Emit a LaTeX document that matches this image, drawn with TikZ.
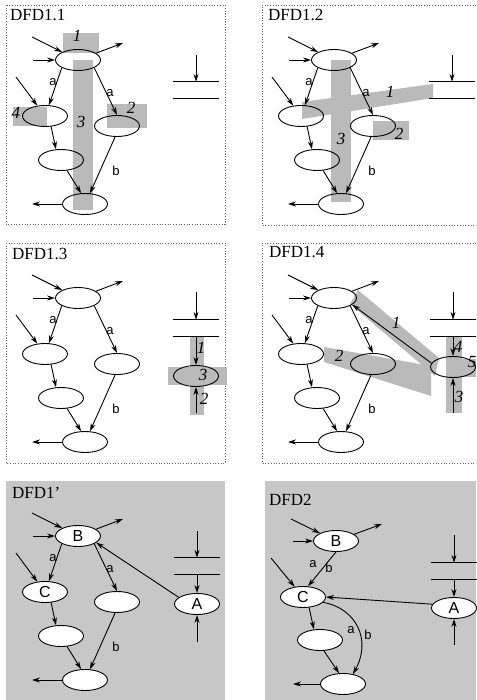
\documentclass[tikz,border=0pt]{standalone}
\usepackage{fontspec}
\setmainfont{Liberation Serif}
\setsansfont{Liberation Sans}
\usetikzlibrary{arrows.meta,shapes.geometric}

\tikzset{
  proc/.style={ellipse, draw, line width=0.9pt, minimum width=45pt, minimum height=21pt,
    inner sep=0pt, font=\sffamily\fontsize{16}{16}\selectfont},
  wproc/.style={proc, fill=white},
  flow/.style={-{Stealth[length=8pt,width=5pt]}, line width=0.9pt},
  store/.style={rectangle, minimum width=46pt, minimum height=16pt, inner sep=0pt},
  storeline/.style={line width=1pt},
  lbl/.style={font=\sffamily\fontsize{13}{13}\selectfont, inner sep=0pt},
  numlbl/.style={font=\itshape\fontsize{17}{17}\selectfont, inner sep=0pt},
  ttl/.style={font=\fontsize{17}{17}\selectfont, anchor=base west, inner sep=0pt},
  band/.style={fill=black!27},
  panelbg/.style={fill=black!22},
  panelframe/.style={draw=black!60, dotted, line width=0.7pt},
}

% common data-flow graph: #1 prefix, #2/#3 shift, #4/#5 texts of the two upper processes, #6 process style
\newcommand\dfdbase[6]{%
  \begin{scope}[shift={(#2,#3)}]
    \node[#6] (#1T) at (78,60) {#4};
    \node[#6] (#1L) at (45,116) {#5};
    \node[#6] (#1R) at (117,126) {};
    \node[#6] (#1M) at (61,160) {};
    \node[#6] (#1Bo) at (85,204) {};
    \coordinate (#1i1) at (32,37);
    \coordinate (#1i2) at (33,60);
    \coordinate (#1o1) at (123,43);
    \coordinate (#1i3) at (16,77);
    \coordinate (#1o2) at (32,204);
    \draw[flow] (#1i1) -- (#1T);
    \draw[flow] (#1i2) -- (#1T);
    \draw[flow] (#1T) -- (#1o1);
    \draw[flow] (#1i3) -- (#1L);
    \draw[flow] (#1T.south west) -- (#1L.70);
    \draw[flow] (#1T.south east) -- (#1R.north);
    \draw[flow] (#1L.-60) -- (#1M.115);
    \draw[flow] (#1M.-60) -- (#1Bo.110);
    \draw[flow] (#1R.-100) -- (#1Bo.65);
    \draw[flow] (#1Bo.west) -- (#1o2);
    \node[lbl] (#1la) at (53,82) {a};
    \node[lbl] (#1lb) at (110,93) {a};
    \node[lbl] (#1lc) at (116,171) {b};
  \end{scope}}

% data store drawn as two horizontal lines of a named box
\newcommand\dstore[1]{%
  \draw[storeline] (#1.north west) -- (#1.north east);
  \draw[storeline] (#1.south west) -- (#1.south east);}

\begin{document}
\begin{tikzpicture}[x=1pt,y=-1pt]
\useasboundingbox (0,0) rectangle (476,700);

% ---------------- DFD1.1 ----------------
\draw[panelframe] (6,5) rectangle (225,224);
\fill[band] (63,33) rectangle (99,53);
\fill[band] (73,60) rectangle (93,210);
\fill[band] (107,104) rectangle (147,128);
\fill[band] (13,107) rectangle (47,126);
\node[ttl] (t1) at (10,21) {DFD1.1};
\dfdbase{a}{0}{0}{}{}{proc}
\node[store] (as) at (196,90) {};
\dstore{as}
\coordinate (asi) at (196,55);
\draw[flow] (asi) -- (as.north);
\node[numlbl] (an1) at (77,36) {1};
\node[numlbl] (an3) at (81,122) {3};
\node[numlbl] (an2) at (131,108) {2};
\node[numlbl] (an4) at (16,113) {4};

% ---------------- DFD1.2 ----------------
\draw[panelframe] (476,5) -- (262,5) -- (262,225) -- (476,225);
\fill[band] (302,102) -- (433,84) -- (433,98) -- (302,119) -- cycle;
\fill[band] (331,60) rectangle (351,202);
\fill[band] (373,121) rectangle (409,140);
\node[ttl] (t2) at (268,21) {DFD1.2};
\dfdbase{b}{256}{0}{}{}{proc}
\node[store] (bs) at (452,90) {};
\dstore{bs}
\coordinate (bsi) at (452,55);
\draw[flow] (bsi) -- (bs.north);
\node[numlbl] (bn1) at (390,92) {1};
\node[numlbl] (bn3) at (341,139) {3};
\node[numlbl] (bn2) at (399,134) {2};

% ---------------- DFD1.3 ----------------
\draw[panelframe] (6,243) rectangle (225,463);
\fill[band] (190,337) rectangle (204,415);
\fill[band] (168,367) rectangle (227,385);
\node[ttl] (t3) at (12,259) {DFD1.3};
\dfdbase{c}{0}{238}{}{}{proc}
\node[store] (cs) at (196,328) {};
\dstore{cs}
\node[proc] (cP) at (196,376) {};
\coordinate (csi) at (196,292);
\coordinate (cpi) at (196,413);
\draw[flow] (csi) -- (cs.north);
\draw[flow] (cs.south) -- (cP.north);
\draw[flow] (cpi) -- (cP.south);
\node[numlbl] (cn1) at (201,348) {1};
\node[numlbl] (cn3) at (203,375) {3};
\node[numlbl] (cn2) at (204,399) {2};

% ---------------- DFD1.4 ----------------
\draw[panelframe] (476,243) -- (262,243) -- (262,463) -- (476,463);
\fill[band] (358,290) -- (439,358) -- (435,376) -- (350,304) -- cycle;
\fill[band] (324,347) -- (431,366) -- (431,396) -- (324,362) -- cycle;
\fill[band] (446,337) rectangle (462,413);
\fill[band] (453,359) rectangle (476,377);
\node[ttl] (t4) at (269,258) {DFD1.4};
\dfdbase{d}{256}{238}{}{}{proc}
\node[store] (ds) at (453,328) {};
\dstore{ds}
\node[proc] (dP) at (453,367) {};
\coordinate (dsi) at (453,292);
\coordinate (dpi) at (453,413);
\draw[flow] (dsi) -- (ds.north);
\draw[flow] (ds.south) -- (dP.north);
\draw[flow] (dpi) -- (dP.south);
\draw[flow] (dP.170) -- (dT.-20);
\node[numlbl] (dn1) at (396,323) {1};
\node[numlbl] (dn2) at (339,356) {2};
\node[numlbl] (dn4) at (458,347) {4};
\node[numlbl] (dn5) at (472,362) {5};
\node[numlbl] (dn3) at (459,397) {3};

% ---------------- DFD1' ----------------
\fill[panelbg] (6,481) rectangle (225,700);
\node[ttl] (t5) at (12,498) {DFD1'};
\dfdbase{e}{0}{476}{B}{C}{wproc}
\node[store] (es) at (197,566) {};
\dstore{es}
\node[wproc] (eA) at (197,604) {A};
\coordinate (esi) at (197,531);
\coordinate (eai) at (197,642);
\draw[flow] (esi) -- (es.north);
\draw[flow] (es.south) -- (eA.north);
\draw[flow] (eai) -- (eA.south);
\draw[flow] (eA.160) -- (eT.-20);

% ---------------- DFD2 ----------------
\fill[panelbg] (265,481) rectangle (476,700);
\node[ttl] (t6) at (269,505) {DFD2};
\node[wproc] (fB) at (336,541) {B};
\node[wproc] (fC) at (303,597) {C};
\node[wproc] (fM) at (320,640) {};
\node[wproc] (fBo) at (343,684) {};
\node[wproc] (fA) at (454,608) {A};
\node[store] (fs) at (454,571) {};
\dstore{fs}
\coordinate (fi1) at (291,519);
\coordinate (fi2) at (293,541);
\coordinate (fo1) at (382,524);
\coordinate (fi3) at (271,558);
\coordinate (fo2) at (293,684);
\coordinate (fsi) at (454,535);
\coordinate (fai) at (454,645);
\draw[flow] (fi1) -- (fB);
\draw[flow] (fi2) -- (fB);
\draw[flow] (fB) -- (fo1);
\draw[flow] (fB.south) -- (fC.65);
\draw[flow] (fi3) -- (fC);
\draw[flow] (fA.170) -- (fC.east);
\draw[flow] (fC.-60) -- (fM.120);
\draw[flow] (fM.-70) -- (fBo.110);
\draw[flow] (fC.-15) .. controls (356,608) and (372,640) .. (fBo.45);
\draw[flow] (fBo.west) -- (fo2);
\draw[flow] (fsi) -- (fs.north);
\draw[flow] (fs.south) -- (fA.north);
\draw[flow] (fai) -- (fA.south);
\node[lbl] (fla) at (313,564) {a};
\node[lbl] (flb) at (329,568) {b};
\node[lbl] (flc) at (351,630) {a};
\node[lbl] (fld) at (368,635) {b};
\end{tikzpicture}
\end{document}
